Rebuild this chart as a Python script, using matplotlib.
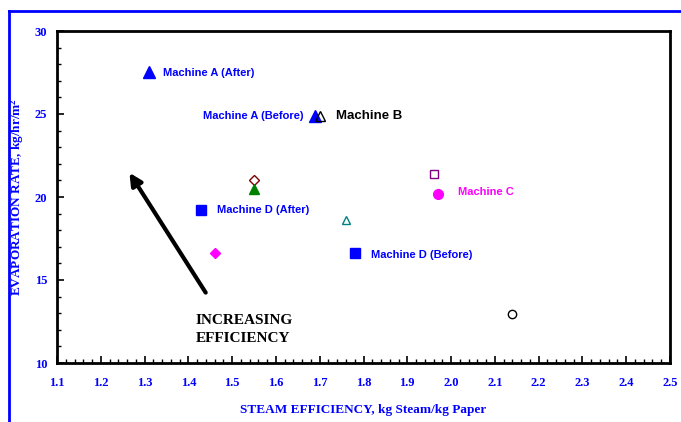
import matplotlib
matplotlib.use('Agg')
import matplotlib.pyplot as plt
from matplotlib.lines import Line2D
from matplotlib.ticker import MultipleLocator

# point data
xs = [1.31, 1.69, 1.70, 1.55, 1.55, 1.43, 1.46, 1.76, 1.78, 1.96, 1.97, 2.14]
ys = [27.5, 24.9, 24.9, 21.0, 20.5, 19.2, 16.6, 18.6, 16.6, 21.4, 20.2, 12.95]
markers = ['^', '^', '^', 'D', '^', 's', 'D', '^', 's', 's', 'o', 'o']
faces = ['#0000FF', '#0000FF', 'none', 'none', '#008000', '#0000FF', '#FF00FF',
         'none', '#0000FF', 'none', '#FF00FF', 'none']
edges = ['#0000FF', '#0000FF', 'black', '#800000', '#008000', '#0000FF', '#FF00FF',
         '#008080', '#0000FF', '#800080', '#FF00FF', 'black']
sizes = [9, 9, 7, 5, 7, 7, 5, 6, 7, 6, 7, 6]

labels = ['Machine A (After)', 'Machine A (Before)', 'Machine B', 'Machine D (After)',
          'Machine D (Before)', 'Machine C']
label_x = [1.342, 1.662, 1.737, 1.465, 1.817, 2.016]
label_y = [27.5, 24.9, 24.9, 19.2, 16.5, 20.3]
label_ha = ['left', 'right', 'left', 'left', 'left', 'left']
label_col = ['#0000FF', '#0000FF', 'black', '#0000FF', '#0000FF', '#FF00FF']
label_size = [8, 8, 9.5, 8, 8, 8]

blue = '#0000FF'
serif = ['Liberation Serif', 'DejaVu Serif']
sans = ['Liberation Sans', 'DejaVu Sans']

plt.rcParams['font.family'] = serif
plt.rcParams['font.weight'] = 'bold'
plt.rcParams['mathtext.fontset'] = 'custom'
plt.rcParams['mathtext.bf'] = 'Liberation Serif:bold'
plt.rcParams['mathtext.rm'] = 'Liberation Serif:bold'
plt.rcParams['mathtext.default'] = 'bf'

fig = plt.figure(figsize=(6.81, 4.22), dpi=100)
ax = fig.add_axes([57 / 681, 1 - 363 / 422, 613 / 681, 332 / 422])

for x, y, m, fc, ec, s in zip(xs, ys, markers, faces, edges, sizes):
    ax.plot(x, y, marker=m, markerfacecolor=fc, markeredgecolor=ec,
            markersize=s, markeredgewidth=1, linestyle='none')

for t, x, y, ha, c, s in zip(labels, label_x, label_y, label_ha, label_col, label_size):
    ax.text(x, y, t, ha=ha, va='center', color=c, fontsize=s,
            fontweight='bold', family=sans)

ax.annotate('', xy=(1.262, 21.6), xytext=(1.443, 14.1),
            arrowprops=dict(arrowstyle='-|>', color='black', lw=3,
                            mutation_scale=18))
ax.text(1.417, 12.95, 'INCREASING\nEFFICIENCY', ha='left', va='top',
        fontsize=11, fontweight='bold', linespacing=1.45)

ax.set_xlim(1.1, 2.5)
ax.set_ylim(10, 30)
ax.xaxis.set_major_locator(MultipleLocator(0.1))
ax.xaxis.set_minor_locator(MultipleLocator(0.02))
ax.yaxis.set_major_locator(MultipleLocator(5))
ax.yaxis.set_minor_locator(MultipleLocator(1))
ax.xaxis.set_major_formatter(plt.FuncFormatter(lambda v, p: '%.1f' % v))
ax.tick_params(which='both', direction='in', top=False, right=False,
               labelcolor=blue, labelsize=9)
ax.tick_params(axis='x', which='major', pad=10)
ax.tick_params(axis='y', which='major', pad=7)
ax.tick_params(which='major', length=5, width=1.2)
ax.tick_params(which='minor', length=3, width=1)
for sp in ax.spines.values():
    sp.set_linewidth(2)

ax.set_xlabel('STEAM EFFICIENCY, kg Steam/kg Paper', color=blue, fontsize=9.5,
              fontweight='bold')
ax.set_ylabel('EVAPORATION RATE, kg/hr/m$^2$', color=blue, fontsize=9.5,
              fontweight='bold')
ax.xaxis.set_label_coords(0.5, -0.125)
ax.yaxis.set_label_coords(-0.050, 0.5)

# blue frame around the figure
fig.add_artist(Line2D([9 / 681, 1], [1 - 11 / 422, 1 - 11 / 422], color=blue, lw=2))
fig.add_artist(Line2D([9 / 681, 9 / 681], [0, 1 - 11 / 422], color=blue, lw=2))

fig.savefig('out.png', dpi=100)
